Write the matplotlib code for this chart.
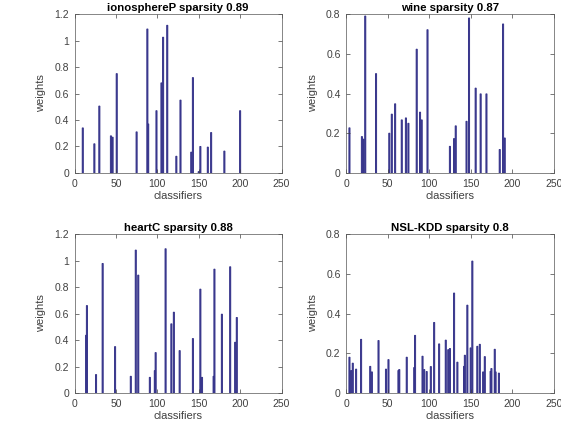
import matplotlib
matplotlib.use('Agg')
import matplotlib.pyplot as plt

plt.rcParams['font.family'] = ['Liberation Sans', 'DejaVu Sans']

# ionosphereP
iono_x = [10, 24, 30, 44, 46, 51, 75, 88, 89, 99, 105, 107, 112, 123, 128,
          141, 143, 150, 152, 161, 165, 181, 200]
iono_w = [0.34, 0.22, 0.505, 0.28, 0.27, 0.75, 0.31, 1.087, 0.37, 0.47, 0.68,
          1.025, 1.115, 0.126, 0.55, 0.157, 0.72, 0.01, 0.20, 0.195, 0.305,
          0.165, 0.47]

# wine
wine_x = [4, 19, 21, 23, 36, 52, 55, 59, 67, 72, 75, 85, 89, 91, 98, 125,
          130, 132, 145, 148, 156, 162, 169, 185, 189, 191]
wine_w = [0.227, 0.183, 0.17, 0.79, 0.50, 0.20, 0.296, 0.348, 0.267, 0.277,
          0.25, 0.623, 0.306, 0.267, 0.721, 0.134, 0.173, 0.237, 0.26, 0.78,
          0.427, 0.398, 0.398, 0.118, 0.75, 0.176]

# heartC
heart_x = [14, 15, 26, 34, 49, 68, 74, 77, 91, 97, 98, 110, 117, 120, 127,
           143, 152, 154, 168, 169, 178, 188, 194, 196]
heart_w = [0.436, 0.66, 0.139, 0.978, 0.35, 0.126, 1.079, 0.89, 0.118, 0.169,
           0.305, 1.089, 0.522, 0.61, 0.32, 0.411, 0.784, 0.118, 0.126, 0.935,
           0.595, 0.953, 0.383, 0.57]

# NSL-KDD
nsl_x = [4, 6, 8, 12, 18, 29, 31, 39, 48, 51, 63, 64, 73, 82, 83, 92, 94, 97,
         102, 106, 112, 120, 123, 125, 130, 134, 142, 143, 146, 150, 152, 158,
         161, 165, 167, 174, 175, 179, 180, 184]
nsl_w = [0.18, 0.113, 0.15, 0.12, 0.27, 0.134, 0.106, 0.264, 0.12, 0.168,
         0.113, 0.118, 0.18, 0.128, 0.29, 0.185, 0.118, 0.108, 0.133, 0.355,
         0.247, 0.266, 0.218, 0.224, 0.503, 0.155, 0.134, 0.19, 0.442, 0.227,
         0.664, 0.235, 0.245, 0.106, 0.183, 0.109, 0.123, 0.22, 0.106, 0.10]

titles = ['ionosphereP sparsity 0.89', 'wine sparsity 0.87',
          'heartC sparsity 0.88', 'NSL-KDD sparsity 0.8']
datasets = [(iono_x, iono_w), (wine_x, wine_w), (heart_x, heart_w), (nsl_x, nsl_w)]
ymaxes = [1.2, 0.8, 1.2, 0.8]
xticks = [0, 50, 100, 150, 200, 250]

positions = [[0.1328, 0.594, 0.369, 0.373],
             [0.617, 0.594, 0.370, 0.373],
             [0.1328, 0.0775, 0.369, 0.373],
             [0.617, 0.0775, 0.370, 0.373]]

fig = plt.figure(figsize=(5.61, 4.26), dpi=100)

for pos, (x, w), title, ymax in zip(positions, datasets, titles, ymaxes):
    ax = fig.add_axes(pos)
    bars = ax.bar(x, w, width=1.3, color='#5250a8', edgecolor='#36348a', linewidth=0.7)
    for b in bars:
        b.set_snap(False)
    ax.set_xlim(0, 250)
    ax.set_ylim(0, ymax)
    ax.set_xticks(xticks)
    ax.set_xticklabels([str(t) for t in xticks])
    if ymax > 1:
        yt = [0, 0.2, 0.4, 0.6, 0.8, 1.0, 1.2]
    else:
        yt = [0, 0.2, 0.4, 0.6, 0.8]
    ax.set_yticks(yt)
    ax.set_yticklabels(['{:g}'.format(v) for v in yt])
    ax.tick_params(direction='in', length=3, width=0.5, top=True, right=True,
                   labelsize=7.5, colors='#404040', pad=4)
    for s in ax.spines.values():
        s.set_color('#555555')
        s.set_linewidth(0.5)
    ax.set_title(title, fontsize=8.2, fontweight='bold', pad=2)
    ax.set_xlabel('classifiers', fontsize=8, color='#404040', labelpad=2)
    ax.set_ylabel('weights', fontsize=8, color='#404040', labelpad=6)

fig.savefig('out.png', dpi=100)
